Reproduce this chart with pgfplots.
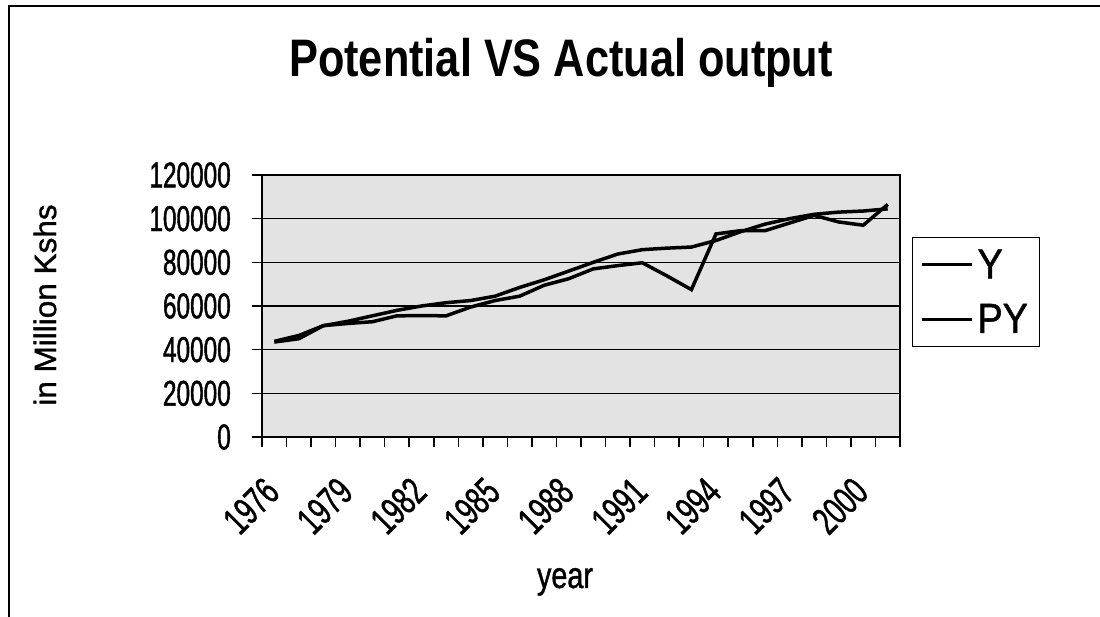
\documentclass[border=0pt]{standalone}
\usepackage{fontspec}
\setmainfont{Liberation Sans}
\newfontfamily\titlefont{Liberation Sans}[FakeStretch=0.82]
\newfontfamily\tickfont{Liberation Sans}[FakeStretch=0.68, FakeBold=1.2]
\newfontfamily\labfont{Liberation Sans}[FakeStretch=0.78, FakeBold=1.2]
\newfontfamily\legfont{Liberation Sans}[FakeStretch=0.90, FakeBold=1.2]
\newfontfamily\ylabfont{Liberation Sans}[FakeStretch=1.02, FakeBold=1.2]
\usepackage{pgfplots}
\pgfplotsset{compat=1.18}
\usepackage{pgfplotstable}

\pgfplotstableread{
idx year Y PY
0 1976 43500 43800
1 1977 45000 46500
2 1978 51000 51000
3 1979 52000 53000
4 1980 52800 55500
5 1981 55500 58000
6 1982 55600 60000
7 1983 55500 61500
8 1984 59500 62500
9 1985 62500 64500
10 1986 64500 68500
11 1987 69500 72000
12 1988 72500 76000
13 1989 77000 80000
14 1990 78500 83800
15 1991 79800 85800
16 1992 73800 86500
17 1993 67500 87000
18 1994 93000 90000
19 1995 94500 94000
20 1996 94500 97500
21 1997 98000 100000
22 1998 101500 102000
23 1999 98500 103000
24 2000 97000 103500
25 2001 106500 104500
}\datatable

\begin{document}
\begin{tikzpicture}
\path[use as bounding box] (-262bp,-180bp) rectangle (838bp,437bp);
\draw[line width=1.5bp] (-253bp,-180bp) -- (-253bp,431bp) -- (838bp,431bp);
\begin{axis}[
  scale only axis, width=638bp, height=262bp,
  at={(0,0)}, anchor=south west,
  xmin=-0.5, xmax=25.5, ymin=0, ymax=120000,
  scaled y ticks=false,
  axis background/.style={fill=gray!22},
  axis line style={line width=2bp},
  ytick={0,20000,40000,60000,80000,100000,120000},
  yticklabels={0,20000,40000,60000,80000,100000,120000},
  ymajorgrids, major grid style={black, line width=1.6bp},
  xtick={-0.5,2.5,5.5,8.5,11.5,14.5,17.5,20.5,23.5},
  xticklabels={1976,1979,1982,1985,1988,1991,1994,1997,2000},
  minor xtick={-0.5,0.5,...,25.5},
  xtick pos=bottom, ytick pos=left,
  tick align=outside,
  major tick length=10bp, minor tick length=10bp,
  tick style={black, line width=1.5bp},
  yticklabel style={font=\tickfont\fontsize{36}{40}\selectfont, anchor=east, inner sep=0pt},
  yticklabel shift=21bp,
  xticklabel style={font=\tickfont\fontsize{39}{42}\selectfont, inner sep=0pt, xshift=10bp, rotate=45, anchor=east},
  xticklabel shift=38bp,
  title={Potential VS Actual output},
  title style={at={(axis description cs:0.4687,1.355)}, anchor=base, font=\titlefont\bfseries\fontsize{53}{60}\selectfont},
  xlabel={year},
  xlabel style={at={(axis description cs:0.4749,-0.5763)}, anchor=base, font=\labfont\fontsize{37}{40}\selectfont},
  ylabel={in Million Kshs},
  every axis y label/.style={at={(axis description cs:-0.3401,0.5038)}, rotate=90, anchor=center, font=\ylabfont\fontsize{31}{34}\selectfont},
  legend style={at={(axis description cs:1.0188,0.763)}, anchor=north west, draw=black, line width=1.2bp, fill=white,
    font=\legfont\fontsize{42}{46}\selectfont, inner xsep=8bp, inner ysep=8bp, row sep=16bp,
    nodes={inner sep=4bp}},
  legend cell align=left,
  legend image code/.code={\draw[line width=3bp] (0bp,0bp) -- (50bp,0bp);},
]
\addplot[black, line width=3.5bp] table[x=idx, y=Y] {\datatable};
\addlegendentry{Y}
\addplot[black, line width=3.5bp] table[x=idx, y=PY] {\datatable};
\addlegendentry{PY}
\end{axis}
\end{tikzpicture}
\end{document}
